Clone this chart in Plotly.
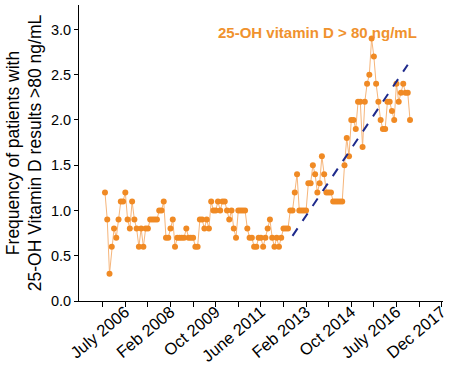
import plotly.graph_objects as go

values = [1.2, 0.9, 0.3, 0.6, 0.8, 0.7, 0.9, 1.1, 1.1, 1.2, 0.9, 0.8, 1.1, 0.9, 0.8, 0.6, 0.8, 0.6, 0.8, 0.8,
          0.9, 0.9, 0.9, 0.9, 1.0, 1.0, 1.1,
          0.7, 0.7, 0.8, 0.9, 0.6, 0.7, 0.7, 0.7, 0.7, 0.8, 0.7, 0.7, 0.7, 0.6, 0.6, 0.9, 0.9, 0.8, 0.9, 0.8,
          1.1, 1.0, 1.0, 1.1, 1.0, 1.1, 1.1, 1.0, 0.9, 1.0, 0.8, 0.7, 1.0, 1.0, 1.0, 1.0, 0.8, 0.7, 0.7, 0.6,
          0.6, 0.7, 0.7, 0.6, 0.7, 0.8,
          0.9, 0.7, 0.6, 0.7, 0.6, 0.7, 0.8, 0.8, 0.8, 1.0, 1.0, 1.2, 1.4,
          1.0, 1.0, 1.0, 1.0, 1.3, 1.3, 1.5, 1.4, 1.2, 1.3, 1.6, 1.4, 1.2, 1.2, 1.2, 1.1, 1.1, 1.1, 1.1, 1.1,
          1.5, 1.8, 1.6, 2.0, 2.0, 1.9, 2.2, 2.2, 1.7, 2.2, 2.4, 2.5, 2.9, 2.7, 2.4, 2.2, 2.0, 1.9, 1.9, 2.2,
          2.2, 2.1, 2.0, 2.4, 2.2, 2.3, 2.4, 2.3, 2.3, 2.0]
months = list(range(1, len(values) + 1))

trend_x = [84, 135]
trend_y = [0.72, 2.61]

tick_positions = [10, 30, 50, 70, 90, 110, 130, 150]
tick_labels = ["July 2006", "Feb 2008", "Oct 2009", "June 2011", "Feb 2013", "Oct 2014", "July 2016", "Dec 2017"]
minor_positions = [0, 20, 40, 60, 80, 100, 120, 140]

all_ticks = sorted(tick_positions + minor_positions)
all_text = [tick_labels[tick_positions.index(t)] if t in tick_positions else "" for t in all_ticks]

FONT = "Arial, 'Liberation Sans', sans-serif"
ORANGE = "#F08A24"

fig = go.Figure()
fig.add_trace(go.Scatter(
    x=months, y=values, mode="lines+markers",
    line=dict(color="#F6B57A", width=1),
    marker=dict(color=ORANGE, size=6),
    showlegend=False, hoverinfo="skip",
))
fig.add_trace(go.Scatter(
    x=trend_x, y=trend_y, mode="lines",
    line=dict(color="#1E2A8C", width=2, dash="dash"),
    showlegend=False, hoverinfo="skip",
))

fig.add_annotation(
    x=0.654, y=0.943, xref="paper", yref="paper",
    text="<b>25-OH vitamin D &gt; 80 ng/mL</b>", showarrow=False,
    font=dict(family=FONT, size=15, color="#F0922E"),
)

fig.update_layout(
    width=461, height=366,
    margin=dict(l=79, r=18, t=5, b=65),
    plot_bgcolor="white", paper_bgcolor="white",
    font=dict(family=FONT, color="black"),
    xaxis=dict(
        range=[-10.5, 150.6], tickvals=all_ticks, ticktext=all_text,
        tickangle=-40, ticks="outside", ticklen=5, tickcolor="black",
        showline=True, linecolor="black", linewidth=1, showgrid=False, zeroline=False,
        tickfont=dict(size=16.5, color="black"), automargin=False,
        ticklabelstandoff=-11,
    ),
    yaxis=dict(
        range=[0, 3.27], tickvals=[0, 0.5, 1.0, 1.5, 2.0, 2.5, 3.0],
        ticktext=["0.0", "0.5", "1.0", "1.5", "2.0", "2.5", "3.0"],
        ticks="outside", ticklen=4, tickcolor="black",
        showline=True, linecolor="black", linewidth=1, showgrid=False, zeroline=False,
        tickfont=dict(size=14.5, color="black"), automargin=False,
        title=dict(text="Frequency of patients with<br>25-OH Vitamin D results >80 ng/mL",
                   font=dict(size=17.5, color="black"), standoff=4),
    ),
)

fig.write_html("out.html", config={"displayModeBar": False},
               post_script="document.body.style.margin='0';document.body.style.overflow='hidden';")
